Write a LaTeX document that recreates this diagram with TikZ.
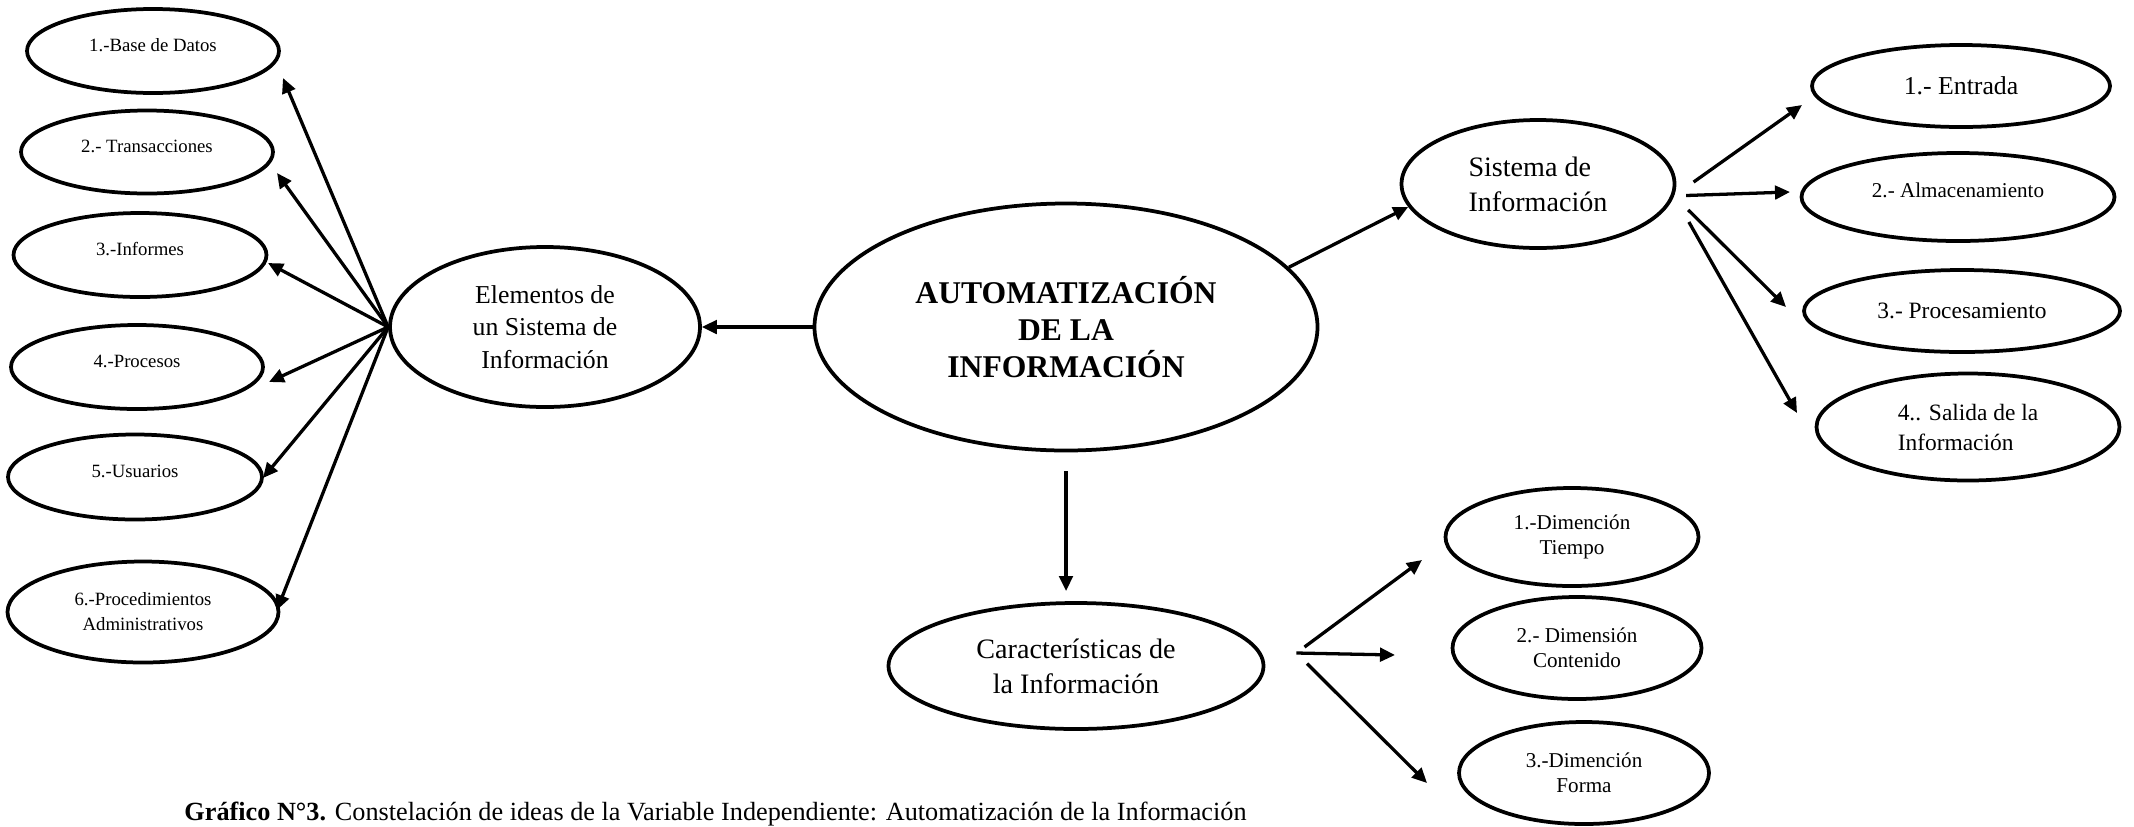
\documentclass[tikz,border=0pt]{standalone}
\usepackage{fontspec}
\setmainfont{Liberation Serif}
\usetikzlibrary{shapes.geometric,arrows.meta,calc}
\tikzset{
  elipse/.style 2 args={draw=black,ellipse,line width=1.6pt,align=center,minimum width=#1*0.15mm,minimum height=#2*0.15mm},
  flecha/.style={draw=black,line width=1.4pt,-{Triangle[length=6.4pt,width=5.8pt]}},
  centrada/.style={text height=4pt,text depth=4pt}}

\begin{document}
\begin{tikzpicture}[x=0.15mm,y=-0.15mm]
\tikzstyle{every node}+=[inner sep=0pt]
\useasboundingbox (0,0) rectangle (2134,826);
\clip (0,0) rectangle (2134,826);
\node [elipse={252}{84},centrada,font=\fontsize{8}{10.7}\selectfont] (base) at (153,51) {1.-Base de Datos};
\node [elipse={252}{83},centrada,font=\fontsize{8}{10.7}\selectfont] (trans) at (147,152) {2.- Transacciones};
\node [elipse={253}{84},centrada,font=\fontsize{8}{10.7}\selectfont] (inf) at (140,255) {3.-Informes};
\node [elipse={252}{84},centrada,font=\fontsize{8}{10.7}\selectfont] (proc) at (137,367) {4.-Procesos};
\node [elipse={254}{85},centrada,font=\fontsize{8}{10.7}\selectfont] (usu) at (135,477) {5.-Usuarios};
\node [elipse={271}{101},font=\fontsize{8}{10.7}\selectfont] (admin) at (143,612) {6.-Procedimientos\\Administrativos};
\node [elipse={310}{160},font=\fontsize{11}{14}\selectfont] (elem) at (545,327) {Elementos de\\un Sistema de\\Información};
\node [elipse={503}{247},font=\fontsize{13.5}{15.8}\selectfont\bfseries] (auto) at (1066,327) {AUTOMATIZACIÓN\\DE LA\\INFORMACIÓN};
\node [elipse={273}{128},align=left,font=\fontsize{12}{15}\selectfont] (sis) at (1538,184) {Sistema de\\Información};
\node [elipse={298}{82},font=\fontsize{11}{13}\selectfont] (ent) at (1961,86) {1.- Entrada};
\node [elipse={313}{88},centrada,font=\fontsize{9}{11}\selectfont] (alm) at (1958,197) {2.- Almacenamiento};
\node [elipse={316}{82},font=\fontsize{10}{12}\selectfont] (procm) at (1962,311) {3.- Procesamiento};
\node [elipse={303}{107},align=left,font=\fontsize{10}{12.8}\selectfont] (sal) at (1968,427) {4.. Salida de la\\Información};
\node [elipse={375}{126},font=\fontsize{12}{15}\selectfont] (car) at (1076,666) {Características de\\la Información};
\node [elipse={253}{98},font=\fontsize{9}{10.7}\selectfont] (tiempo) at (1572,537) {1.-Dimención\\Tiempo};
\node [elipse={249}{102},font=\fontsize{9}{10.7}\selectfont] (cont) at (1577,648) {2.- Dimensión\\Contenido};
\node [elipse={250}{102},font=\fontsize{9}{10.7}\selectfont] (forma) at (1584,773) {3.-Dimención\\Forma};
\node [anchor=base west,font=\fontsize{11.2}{13}\selectfont] (grafico) at (184,820) {\textbf{Gráfico N°3.} Constelación de ideas de la Variable Independiente: Automatización de la Información};
\coordinate (tbase) at (283,78);
\coordinate (ttrans) at (277,173);
\coordinate (tinf) at (268,263);
\coordinate (tproc) at (269,382);
\coordinate (tusu) at (263,478);
\coordinate (tadmin) at (277,610);
\coordinate (tent) at (1802,105);
\coordinate (talm) at (1790,192);
\coordinate (tprocm) at (1786,307);
\coordinate (tsal) at (1797,413);
\coordinate (ttiempo) at (1422,560);
\coordinate (tcont) at (1395,655);
\coordinate (tforma) at (1427,783);
\coordinate (carhub) at ($(car.east)+(31,-13)$);
\foreach \n in {base,trans,inf,proc,usu,admin}
  \draw [flecha] (elem.west) -- (t\n);
\draw [flecha] (auto.west) -- (elem.east);
\draw [flecha] (auto.15) -- (sis.190);
\draw [flecha,shorten <=8pt,shorten >=4.3pt] (auto.south) -- (auto.south |- car.north);
\draw [flecha,shorten <=10.2pt] (sis.-5) -- (tent);
\draw [flecha,shorten <=5.1pt] (sis.-5) -- (talm);
\draw [flecha,shorten <=8.5pt] (sis.-5) -- (tprocm);
\draw [flecha,shorten <=12.8pt] (sis.-5) -- (tsal);
\draw [flecha,shorten <=4.3pt] (carhub) -- (ttiempo);
\draw [flecha] (carhub) -- (tcont);
\draw [flecha,shorten <=6.4pt] (carhub) -- (tforma);
\end{tikzpicture}
\end{document}
